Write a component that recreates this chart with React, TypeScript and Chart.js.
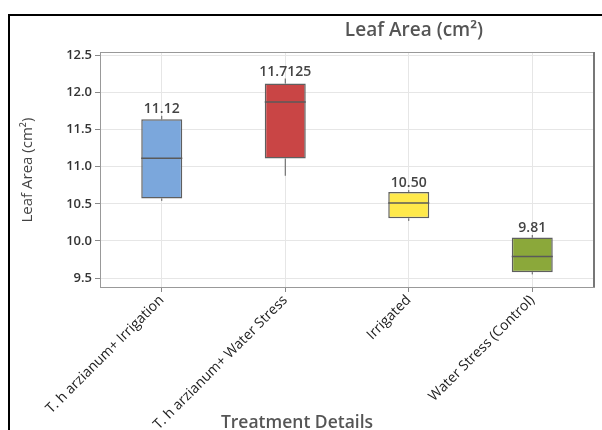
import { useEffect, useRef } from "react";
import { Chart, registerables } from "chart.js";

Chart.register(...registerables);

const categories = [
  "T. h arzianum+ Irrigation",
  "T. h arzianum+ Water Stress",
  "Irrigated",
  "Water Stress (Control)",
];
const q1 = [10.572, 11.11, 10.305, 9.58];
const q3 = [11.638, 12.12, 10.66, 10.045];
const medians = [11.115, 11.872, 10.511, 9.79];
const whiskerLow = [10.54, 10.878, 10.27, 9.55];
const whiskerHigh = [11.685, 12.188, 10.685, 10.08];
const meanLabels = ["11.12", "11.7125", "10.50", "9.81"];
const boxColors = ["#7ba7dc", "#c94545", "#ffe94a", "#8ba83a"];
const yTicks = [9.5, 10.0, 10.5, 11.0, 11.5, 12.0, 12.5];
const yMin = 9.38;
const yMax = 12.545;

const FONT = "'Open Sans', 'Noto Sans', sans-serif";

const boxPlugin = {
  id: "boxExtras",
  afterDatasetsDraw(chart: any) {
    const ctx = chart.ctx as CanvasRenderingContext2D;
    const y = chart.scales.y;
    const meta = chart.getDatasetMeta(0);
    ctx.save();
    meta.data.forEach((bar: any, i: number) => {
      const cx = bar.x;
      const half = bar.width / 2;
      ctx.strokeStyle = "#5a5a5a";
      ctx.lineWidth = 1;
      ctx.beginPath();
      ctx.moveTo(cx, y.getPixelForValue(q3[i]));
      ctx.lineTo(cx, y.getPixelForValue(whiskerHigh[i]));
      ctx.moveTo(cx, y.getPixelForValue(q1[i]));
      ctx.lineTo(cx, y.getPixelForValue(whiskerLow[i]));
      ctx.stroke();
      ctx.lineWidth = 1.5;
      const my = y.getPixelForValue(medians[i]);
      ctx.beginPath();
      ctx.moveTo(cx - half, my);
      ctx.lineTo(cx + half, my);
      ctx.stroke();
      ctx.fillStyle = "#444";
      ctx.font = `600 14px ${FONT}`;
      ctx.textAlign = "center";
      ctx.textBaseline = "alphabetic";
      ctx.fillText(meanLabels[i], cx, y.getPixelForValue(whiskerHigh[i]) - 3);
    });
    ctx.restore();
  },
  afterDraw(chart: any) {
    const ctx = chart.ctx as CanvasRenderingContext2D;
    const a = chart.chartArea;
    ctx.save();
    ctx.strokeStyle = "#999";
    ctx.lineWidth = 1;
    ctx.beginPath();
    ctx.moveTo(a.left, a.top + 0.5);
    ctx.lineTo(a.right, a.top + 0.5);
    ctx.stroke();
    ctx.strokeStyle = "#777";
    ctx.lineWidth = 2;
    ctx.beginPath();
    ctx.moveTo(a.right, a.top);
    ctx.lineTo(a.right, a.bottom);
    ctx.stroke();
    ctx.fillStyle = "#555";
    ctx.textAlign = "center";
    ctx.textBaseline = "middle";
    ctx.font = `600 19px ${FONT}`;
    ctx.fillText("Leaf Area (cm²)", 414, 31);
    ctx.font = `600 17.5px ${FONT}`;
    ctx.fillText("Treatment Details", 297, 423);
    ctx.save();
    ctx.translate(28, 170);
    ctx.rotate(-Math.PI / 2);
    ctx.fillStyle = "#444";
    ctx.font = `400 15px ${FONT}`;
    ctx.fillText("Leaf Area (cm²)", 0, 0);
    ctx.restore();
    ctx.restore();
  },
};

export default function App() {
  const ref = useRef<HTMLCanvasElement | null>(null);
  useEffect(() => {
    if (!ref.current) return;
    const chart = new Chart(ref.current, {
      type: "bar",
      data: {
        labels: categories,
        datasets: [
          {
            data: q1.map((v, i) => [v, q3[i]]) as any,
            backgroundColor: boxColors,
            borderColor: "#5f5f5f",
            borderWidth: 1.5,
            borderSkipped: false,
            barPercentage: 0.332,
            categoryPercentage: 1,
          },
        ],
      },
      options: {
        animation: false,
        responsive: false,
        maintainAspectRatio: false,
        layout: { padding: { left: 0, right: 8, top: 52, bottom: 0 } },
        plugins: {
          legend: { display: false },
          tooltip: { enabled: false },
          title: { display: false },
        },
        scales: {
          x: {
            offset: true,
            grid: {
              offset: false,
              color: "#e6e6e6",
              tickColor: "#888",
              tickLength: 5,
            },
            border: { display: true, color: "#999" },
            ticks: {
              autoSkip: false,
              maxRotation: 45,
              minRotation: 45,
              color: "#222",
              padding: 0,
              font: { family: FONT, size: 14 },
            },
            afterFit(scale: any) {
              scale.height = 143;
            },
          },
          y: {
            min: yMin,
            max: yMax,
            grid: { color: "#e6e6e6", tickColor: "#888", tickLength: 5 },
            border: { display: true, color: "#999" },
            ticks: {
              includeBounds: false,
              color: "#333",
              padding: 3,
              font: { family: FONT, size: 13, weight: "600" as any },
              callback: (v: any) => Number(v).toFixed(1),
            },
            afterBuildTicks(scale: any) {
              scale.ticks = yTicks.map((v) => ({ value: v }));
            },
            afterFit(scale: any) {
              scale.width = 100;
            },
          },
        },
      },
      plugins: [boxPlugin],
    });
    return () => chart.destroy();
  }, []);

  return (
    <div
      style={{
        position: "absolute",
        left: 0,
        top: 0,
        width: 602,
        height: 430,
        overflow: "hidden",
        background: "#fff",
      }}
    >
      <div
        style={{
          position: "absolute",
          left: 8,
          top: 14,
          width: 700,
          height: 600,
          border: "2px solid #000",
        }}
      />
      <canvas
        ref={ref}
        width={602}
        height={430}
        style={{ position: "absolute", left: 0, top: 0, width: 602, height: 430 }}
      />
    </div>
  );
}
